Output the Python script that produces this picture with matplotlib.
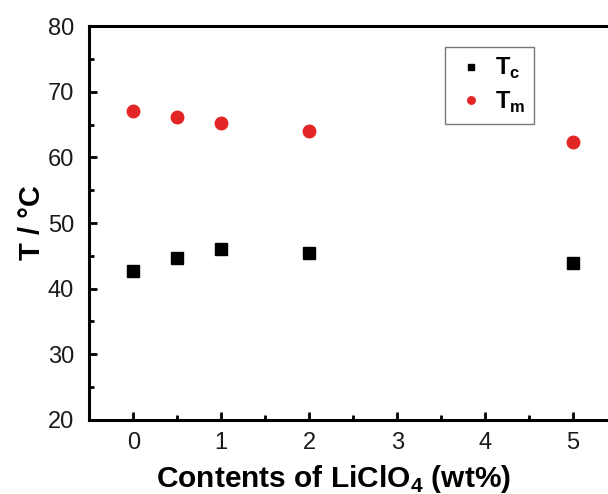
import matplotlib
matplotlib.use("Agg")
import matplotlib.pyplot as plt
from matplotlib.ticker import MultipleLocator

plt.rcParams['font.family'] = ['Liberation Sans', 'DejaVu Sans']
plt.rcParams['mathtext.fontset'] = 'custom'
plt.rcParams['mathtext.rm'] = 'Liberation Sans:bold'
plt.rcParams['mathtext.bf'] = 'Liberation Sans:bold'

contents = [0, 0.5, 1, 2, 5]
tc_values = [42.7, 44.6, 46.1, 45.5, 43.9]
tm_values = [67.0, 66.1, 65.2, 64.0, 62.3]
x_ticks = [0, 1, 2, 3, 4, 5]
y_ticks = [20, 30, 40, 50, 60, 70, 80]

fig = plt.figure(figsize=(6.08, 4.94), dpi=100)
ax = fig.add_axes([0.147, 0.150, 0.868, 0.797])

ax.plot(contents, tc_values, linestyle='none', marker='s', markersize=8,
        color='black', label=r'T$_\mathbf{c}$')
ax.plot(contents, tm_values, linestyle='none', marker='o', markersize=9,
        color='#e42525', markeredgecolor='#e42525', label=r'T$_\mathbf{m}$')

ax.set_xlim(-0.5, 5.5)
ax.set_ylim(20, 80)
ax.set_xticks(x_ticks)
ax.set_yticks(y_ticks)
ax.xaxis.set_minor_locator(MultipleLocator(0.5))
ax.yaxis.set_minor_locator(MultipleLocator(5))
ax.tick_params(which='both', direction='in', width=2, labelsize=17,
               top=False, right=False, labelcolor='#1a1a1a')
ax.tick_params(which='major', length=6)
ax.tick_params(axis='y', which='major', pad=11)
ax.tick_params(axis='x', which='major', pad=9)
ax.tick_params(which='minor', length=3.5)
for s in ax.spines.values():
    s.set_linewidth(2.2)

ax.set_xlabel(r'Contents of LiClO$_\mathbf{4}$ (wt%)', fontsize=21.5,
              fontweight='bold', labelpad=5)
ax.xaxis.set_label_coords(0.4635, -0.11)
ax.set_ylabel('T / °C', fontsize=21, fontweight='bold', labelpad=1)

leg = ax.legend(loc='upper left', bbox_to_anchor=(0.674, 0.948), fontsize=17,
                frameon=True, fancybox=False, edgecolor='#555555',
                markerscale=0.6, handletextpad=0.3, borderpad=0.4,
                labelspacing=0.35, handlelength=1.4, borderaxespad=0)
leg.get_frame().set_linewidth(1.0)
for t in leg.get_texts():
    t.set_fontweight('bold')

fig.savefig('out.png', dpi=100)
